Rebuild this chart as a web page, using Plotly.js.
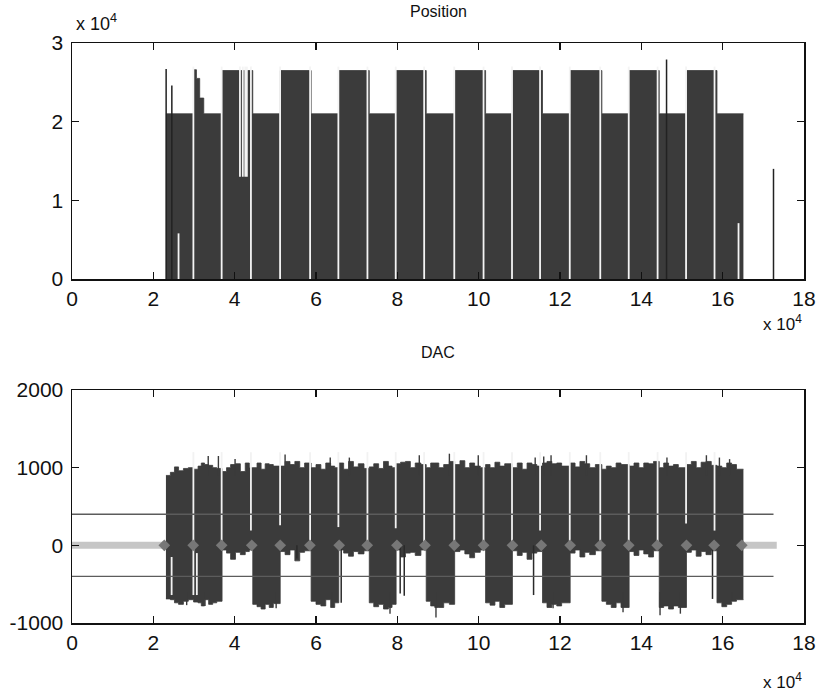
<!DOCTYPE html>
<html><head><meta charset="utf-8">
<script src="https://cdn.plot.ly/plotly-3.0.1.min.js"></script>
<style>html,body{margin:0;padding:0;background:#fff}#chart{width:817px;height:695px}</style>
</head><body><div id="chart"></div>
<script>
// ---------- axis ticks ----------
const xTickVals = [0, 20000, 40000, 60000, 80000, 100000, 120000, 140000, 160000, 180000];
const xTickText = ['0','2','4','6','8','10','12','14','16','18'];
const posTickVals = [0, 10000, 20000, 30000];
const posTickText = ['0','1','2','3'];
const dacTickVals = [-1000, 0, 1000, 2000];
const dacTickText = ['-1000','0','1000','2000'];

// ---------- Position (step blocks) ----------
const posStart = 23100;
const posEnd   = [29900, 30600, 31400, 32400, 36900, 44450, 51200, 58800, 65600, 73100, 79700, 87100, 94100, 101700, 108300, 115700, 122500, 130300, 137000, 144400, 151100, 158600, 165100];
const posLevel = [21000, 26600, 25500, 23000, 21000, 26500, 21000, 26500, 21000, 26500, 21000, 26500, 21000, 26500, 21000, 26500, 21000, 26500, 21000, 26500, 21000, 26500, 21000];
// thin spikes
const posSpikeX   = [23150, 24550, 146200, 172500];
const posSpikeTop = [26700, 24600, 27900, 14000];
// white gap lines
const posWhiteX  = [29850, 36800, 44000, 51170, 58550, 65500, 72650, 79600, 86600, 94000, 101200, 108200, 115100, 122400, 129900, 136900, 144000, 151000, 158000, 26200, 163900, 41300, 42000, 42600, 43000];
const posWhiteLo = [0,0,0,0,0,0,0,0,0,0,0,0,0,0,0,0,0,0,0, 0, 0, 13000, 13000, 13000, 13000];
const posWhiteHi = [27000,27000,27000,27000,27000,27000,27000,27000,27000,27000,27000,27000,27000,27000,27000,27000,27000,27000,27000, 5800, 7100, 27000, 27000, 27000, 27000];

// ---------- DAC (envelope segments) ----------
const dacStart = 23100;
const dacEnd = [
  24200, 25200, 26200, 27400, 28600, 29900,                 // B1 full
  31000, 31800, 32600, 33600, 34600, 35600, 36900,          // B2 full
  38000, 39000, 40200, 41400, 42600, 43600, 44450,          // B3 upper
  45500, 46500, 47500, 48500, 49500, 51200,                 // B4 full
  52400, 53600, 54800, 56000, 57200, 58800,                 // B5 upper
  60000, 61200, 62400, 63600, 64600, 65600,                 // B6 full
  66800, 68000, 69200, 70400, 71800, 73100,                 // B7 upper
  74200, 75400, 76600, 77800, 78700, 79700,                 // B8 full
  80800, 82000, 83200, 84400, 85800, 87100,                 // B9 upper
  88200, 89200, 90200, 91400, 92800, 94100,                 // B10 full
  95400, 96600, 97800, 99000, 100400, 101700,               // B11 upper
  102800, 104000, 105200, 106400, 108300,                   // B12 full
  109500, 110700, 111900, 113100, 114300, 115700,           // B13 upper
  116800, 118000, 119200, 120400, 122500,                   // B14 full
  123700, 124900, 126100, 127300, 128700, 130300,           // B15 upper
  131400, 132600, 133800, 135000, 137000,                   // B16 full
  138200, 139400, 140600, 141800, 143000, 144400,           // B17 upper
  145500, 146700, 147900, 149100, 151100,                   // B18 full
  152300, 153500, 154700, 155900, 157200, 158600,           // B19 upper
  159800, 161000, 162200, 163400, 165100                    // B20 full
];
const dacHi = [
  900, 940, 1010, 960, 990, 1000,
  980, 1020, 1060, 1040, 1030, 1000, 990,
  950, 1000, 1040, 1050, 950, 1060, 1000,
  1000, 1060, 980, 1050, 1040, 1020,
  1020, 1080, 1040, 1080, 1000, 1060,
  1000, 1040, 980, 1060, 1020, 1000,
  1060, 980, 1080, 1010, 1050, 990,
  1010, 1050, 990, 1080, 1020, 1000,
  1050, 1070, 1080, 1000, 1060, 1040,
  1000, 1060, 1060, 1000, 1040, 1080,
  1040, 1090, 1000, 1060, 1020, 1000,
  1040, 1000, 1070, 1020, 1050,
  1000, 1060, 980, 1060, 1040, 1020,
  1060, 1080, 1050, 1060, 1020,
  1060, 1010, 1080, 1050, 1000, 1040,
  980, 1020, 1000, 1060, 1040,
  1020, 1060, 1000, 1060, 1050, 1080,
  1000, 1060, 1020, 1040, 1000,
  1040, 1080, 1000, 1070, 1080, 1030,
  1020, 1000, 1060, 1040, 980
];
const dacLo = [
  -690, -700, -740, -760, -720, -700,
  -730, -740, -780, -700, -760, -740, -720,
  -60, -100, -180, -90, -120, -80, -60,
  -760, -790, -820, -760, -800, -750,
  -80, -120, -60, -200, -90, -70,
  -720, -760, -780, -700, -800, -740,
  -60, -100, -140, -80, -110, -70,
  -740, -790, -760, -820, -800, -760,
  -60, -150, -100, -90, -130, -60,
  -720, -780, -800, -800, -740, -760,
  -80, -60, -110, -160, -90, -60,
  -740, -770, -720, -800, -760,
  -70, -130, -90, -180, -100, -80,
  -740, -800, -760, -780, -740,
  -100, -60, -150, -90, -120, -70,
  -720, -760, -800, -740, -800,
  -80, -130, -60, -110, -150, -70,
  -800, -780, -820, -780, -800,
  -90, -60, -140, -80, -120, -70,
  -740, -790, -760, -720, -700
];
// thin noise spikes above / below the envelope
const dacUpX   = [33500, 36000, 40100, 52400, 63500, 68200, 85400, 92800, 99900, 113900, 116000, 117800, 126500, 146300, 156000, 159200, 161700];
const dacUpTop = [1150, 1150, 1110, 1170, 1130, 1130, 1160, 1180, 1160, 1130, 1145, 1160, 1160, 1130, 1160, 1130, 1110];
const dacDownX   = [28200, 32700, 50200, 63900, 78200, 89500, 118300, 135500, 144600, 149600, 162300];
const dacDownBot = [-770, -780, -810, -780, -880, -930, -810, -860, -900, -880, -700];
// white gap lines in DAC
const dacWhiteX  = [29850, 36800, 44000, 51170, 58550, 65500, 72650, 79600, 86600, 94000, 101200, 108200, 115100, 122400, 129900, 136900, 144000, 151000, 158000, 24500, 30700];
const dacWhiteLo = [-640, 0, 190, 260, 0, 235, 0, 220, 0, 0, 0, 0, 190, 0, 0, 0, 0, 280, 190, -640, -640];
const dacWhiteHi = [1200,1200,1200,1200,1200,1200,1200,1200,1200,1200,1200,1200,1200,1200,1200,1200,1200,1200,1200, -150, -100];
// dark downward spikes under upper-only blocks
const dacSpikeX   = [55300, 66200, 80700, 81700, 113500, 157500];
const dacSpikeBot = [-170, -740, -620, -650, -640, -690];
// threshold lines and idle band
const dacThresh = [400, -400];
const dacThreshEnd = 172500;
const dacBandStart = [0, 165100];
const dacBandEnd   = [22600, 173300];
// markers at block transitions
const dacMarkX = [22700, 29800, 36800, 44200, 51200, 58500, 65700, 72600, 79900, 86800, 94000, 101200, 108300, 115400, 122500, 129900, 136900, 143900, 151100, 157900, 164700];

// ---------- helpers ----------
function stepXY(start, ends, vals) {
  const x = [start].concat(ends);
  const y = vals.concat([vals[vals.length - 1]]);
  return {x, y};
}
function segs(xs, lo, hi) {
  const x = [], y = [];
  for (let i = 0; i < xs.length; i++) { x.push(xs[i], xs[i], null); y.push(lo[i], hi[i], null); }
  return {x, y};
}

const DARK = '#3b3b3b';
const FONT = 'Liberation Sans, Arial, sans-serif';
const traces = [];

// Position
const ps = stepXY(posStart, posEnd, posLevel);
traces.push({x: ps.x, y: ps.y, xaxis:'x', yaxis:'y', type:'scatter', mode:'lines',
  line:{shape:'hv', color:DARK, width:0.8}, fill:'tozeroy', fillcolor:DARK, hoverinfo:'skip'});
const pw = segs(posWhiteX, posWhiteLo, posWhiteHi);
traces.push({x: pw.x, y: pw.y, xaxis:'x', yaxis:'y', type:'scatter', mode:'lines',
  line:{color:'#f4f4f4', width:1.8}, hoverinfo:'skip'});
const psp = segs(posSpikeX, posSpikeX.map(() => 0), posSpikeTop);
traces.push({x: psp.x, y: psp.y, xaxis:'x', yaxis:'y', type:'scatter', mode:'lines',
  line:{color:'#222', width:1.5}, hoverinfo:'skip'});

// DAC
for (let i = 0; i < dacBandStart.length; i++) {
  traces.push({x:[dacBandStart[i], dacBandEnd[i]], y:[0, 0], xaxis:'x2', yaxis:'y2', type:'scatter', mode:'lines',
    line:{color:'#c6c6c6', width:7}, hoverinfo:'skip'});
}
const dl = stepXY(dacStart, dacEnd, dacLo);
const dh = stepXY(dacStart, dacEnd, dacHi);
traces.push({x: dl.x, y: dl.y, xaxis:'x2', yaxis:'y2', type:'scatter', mode:'lines',
  line:{shape:'hv', color:DARK, width:0.8}, hoverinfo:'skip'});
traces.push({x: dh.x, y: dh.y, xaxis:'x2', yaxis:'y2', type:'scatter', mode:'lines',
  line:{shape:'hv', color:DARK, width:0.8}, fill:'tonexty', fillcolor:DARK, hoverinfo:'skip'});
const du = segs(dacUpX, dacUpX.map(() => 900), dacUpTop);
traces.push({x: du.x, y: du.y, xaxis:'x2', yaxis:'y2', type:'scatter', mode:'lines',
  line:{color:DARK, width:1.4}, hoverinfo:'skip'});
const dd = segs(dacDownX, dacDownBot, dacDownX.map(() => -600));
traces.push({x: dd.x, y: dd.y, xaxis:'x2', yaxis:'y2', type:'scatter', mode:'lines',
  line:{color:DARK, width:1.4}, hoverinfo:'skip'});
const dw = segs(dacWhiteX, dacWhiteLo, dacWhiteHi);
traces.push({x: dw.x, y: dw.y, xaxis:'x2', yaxis:'y2', type:'scatter', mode:'lines',
  line:{color:'#f2f2f2', width:1.8}, hoverinfo:'skip'});
const dsp = segs(dacSpikeX, dacSpikeBot, dacSpikeX.map(() => 0));
traces.push({x: dsp.x, y: dsp.y, xaxis:'x2', yaxis:'y2', type:'scatter', mode:'lines',
  line:{color:'#2a2a2a', width:1.5}, hoverinfo:'skip'});
dacThresh.forEach(v => {
  traces.push({x:[0, dacThreshEnd], y:[v, v], xaxis:'x2', yaxis:'y2', type:'scatter', mode:'lines',
    line:{color:'#5c5c5c', width:1.4}, hoverinfo:'skip'});
});
traces.push({x: dacMarkX, y: dacMarkX.map(() => 0), xaxis:'x2', yaxis:'y2', type:'scatter', mode:'markers',
  marker:{symbol:'diamond', size:9, color:'#777777'}, hoverinfo:'skip'});

const W = 817, H = 695, L = 72, R = 804;
const axCommon = {ticks:'inside', ticklen:7, tickwidth:1.5, tickcolor:'#111', showline:true, linecolor:'#111',
  linewidth:1.5, mirror:'ticks', showgrid:false, zeroline:false, fixedrange:true,
  tickfont:{family:FONT, size:21, color:'#111'}};
const layout = {
  width: W, height: H, margin:{l:0, r:0, t:0, b:0}, paper_bgcolor:'#fff', plot_bgcolor:'#fff', showlegend:false,
  font:{family:FONT, color:'#111', size:16},
  xaxis: Object.assign({}, axCommon, {domain:[L/W, R/W], range:[0, 180000], tickvals:xTickVals, ticktext:xTickText, anchor:'y'}),
  yaxis: Object.assign({}, axCommon, {domain:[1 - 279/H, 1 - 43/H], range:[0, 30000], tickvals:posTickVals, ticktext:posTickText, anchor:'x', ticklabelstandoff:3}),
  xaxis2: Object.assign({}, axCommon, {domain:[L/W, R/W], range:[0, 180000], tickvals:xTickVals, ticktext:xTickText, anchor:'y2'}),
  yaxis2: Object.assign({}, axCommon, {domain:[1 - 623/H, 1 - 390/H], range:[-1000, 2000], tickvals:dacTickVals, ticktext:dacTickText, anchor:'x2', ticklabelstandoff:3}),
  annotations: [
    {text:'Position', xref:'paper', yref:'paper', x:(L + R) / 2 / W, y:1 - 11/H, xanchor:'center', yanchor:'middle', showarrow:false, font:{family:FONT, size:16, color:'#111'}},
    {text:'DAC', xref:'paper', yref:'paper', x:(L + R) / 2 / W, y:1 - 352/H, xanchor:'center', yanchor:'middle', showarrow:false, font:{family:FONT, size:16, color:'#111'}},
    {text:'x 10<sup>4</sup>', xref:'paper', yref:'paper', x:74/W, y:1 - 36/H, xanchor:'left', yanchor:'bottom', showarrow:false, font:{family:FONT, size:18, color:'#111'}},
    {text:'x 10<sup>4</sup>', xref:'paper', yref:'paper', x:804/W, y:1 - 336/H, xanchor:'right', yanchor:'bottom', showarrow:false, font:{family:FONT, size:17, color:'#111'}},
    {text:'x 10<sup>4</sup>', xref:'paper', yref:'paper', x:804/W, y:1 - 694/H, xanchor:'right', yanchor:'bottom', showarrow:false, font:{family:FONT, size:17, color:'#111'}}
  ]
};
Plotly.newPlot('chart', traces, layout, {displayModeBar:false, staticPlot:true});
</script>
</body></html>
